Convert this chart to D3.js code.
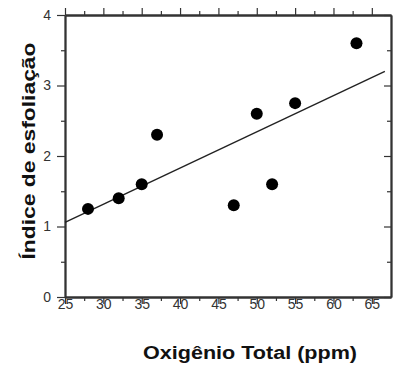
<!DOCTYPE html>
<html>
<head>
<meta charset="utf-8">
<script src="https://cdn.jsdelivr.net/npm/d3@7"></script>
<style>
  body { margin: 0; background: #fff; }
  svg { display: block; font-family: Arial, "Liberation Sans", sans-serif; }
  .axis path, .axis line { stroke: #333; }
  .axis line { stroke-width: 1.2; }
  .axis text { fill: #333; font-size: 14px; }
</style>
</head>
<body>
<svg id="chart" width="393" height="365"></svg>
<script>
// oxygen (ppm) vs exfoliation index
var oxygen = [28, 32, 35, 37, 47, 50, 52, 55, 63];
var indice = [1.25, 1.4, 1.6, 2.3, 1.3, 2.6, 1.6, 2.75, 3.6];
// fitted line end points
var fitX = [25, 66.7];
var fitY = [1.06, 3.2];
var xTicks = [25, 30, 35, 40, 45, 50, 55, 60, 65];
var yTicks = [0, 1, 2, 3, 4];

var svg = d3.select("#chart");
var margin = {top: 15, right: 2, bottom: 68, left: 65};
var width = +svg.attr("width") - margin.left - margin.right;
var height = +svg.attr("height") - margin.top - margin.bottom;
var g = svg.append("g").attr("transform", "translate(" + margin.left + "," + margin.top + ")");

var x = d3.scaleLinear().domain([25, 67.5]).range([0, width]);
var y = d3.scaleLinear().domain([0, 4]).range([height, 0]);

var xMinor = d3.range(27.5, 67.5, 5);
var yMinor = d3.range(0.5, 4, 1);

// minor ticks first, then majors
g.append("g").attr("class", "axis")
    .attr("transform", "translate(0," + height + ")")
    .call(d3.axisBottom(x).tickValues(xMinor).tickSize(4).tickSizeOuter(0).tickFormat(""));
g.append("g").attr("class", "axis")
    .call(d3.axisTop(x).tickValues(xMinor).tickSize(4).tickSizeOuter(0).tickFormat(""));
g.append("g").attr("class", "axis")
    .call(d3.axisLeft(y).tickValues(yMinor).tickSize(4).tickSizeOuter(0).tickFormat(""));
g.append("g").attr("class", "axis")
    .attr("transform", "translate(" + width + ",0)")
    .call(d3.axisRight(y).tickValues(yMinor).tickSize(-4).tickSizeOuter(0).tickFormat(""));

var xb = g.append("g").attr("class", "axis")
    .attr("transform", "translate(0," + height + ")")
    .call(d3.axisBottom(x).tickValues(xTicks).tickSize(7).tickSizeOuter(0));
xb.selectAll("text").attr("y", 2).attr("dy", "0.71em");

g.append("g").attr("class", "axis")
    .call(d3.axisTop(x).tickValues(xTicks).tickSize(7).tickSizeOuter(0).tickFormat(""));

g.append("g").attr("class", "axis")
    .call(d3.axisLeft(y).tickValues(yTicks).tickSize(8).tickPadding(6).tickSizeOuter(0).tickFormat(d3.format("d")));

g.append("g").attr("class", "axis")
    .attr("transform", "translate(" + width + ",0)")
    .call(d3.axisRight(y).tickValues(yTicks).tickSize(-7).tickSizeOuter(0).tickFormat(""));

g.selectAll(".axis path").attr("stroke-width", 1.8);

// regression line
var fit = fitX.map(function(d, i) { return [d, fitY[i]]; });
g.append("path")
    .datum(fit)
    .attr("fill", "none")
    .attr("stroke", "#222")
    .attr("stroke-width", 1.4)
    .attr("d", d3.line().x(function(d) { return x(d[0]); }).y(function(d) { return y(d[1]); }));

g.selectAll(".dot")
    .data(oxygen)
    .enter().append("circle")
    .attr("class", "dot")
    .attr("cx", function(d) { return x(d); })
    .attr("cy", function(d, i) { return y(indice[i]); })
    .attr("r", 6)
    .attr("fill", "#000");

// titles
svg.append("text")
    .attr("x", 250).attr("y", 359)
    .attr("text-anchor", "middle")
    .attr("font-size", 18).attr("font-weight", "bold").attr("fill", "#111")
    .attr("textLength", 214).attr("lengthAdjust", "spacingAndGlyphs")
    .text("Oxigênio Total (ppm)");

svg.append("text")
    .attr("transform", "translate(35,151) rotate(-90)")
    .attr("text-anchor", "middle")
    .attr("font-size", 18).attr("font-weight", "bold").attr("fill", "#111")
    .attr("textLength", 217).attr("lengthAdjust", "spacingAndGlyphs")
    .text("Índice de esfoliação");
</script>
</body>
</html>
